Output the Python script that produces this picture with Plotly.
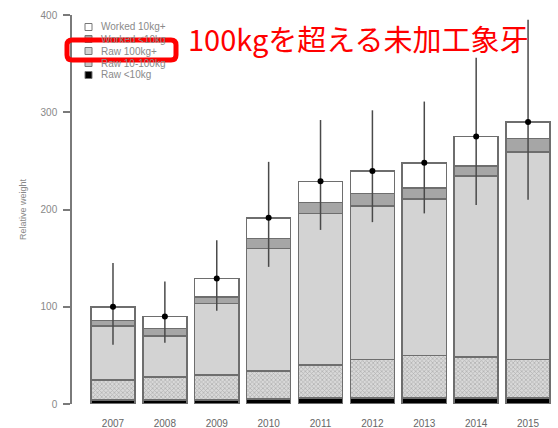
import plotly.graph_objects as go

years = ["2007", "2008", "2009", "2010", "2011", "2012", "2013", "2014", "2015"]
raw_lt10 = [4, 4, 4, 5, 6, 6, 6, 6, 6]
raw_10_100 = [20.5, 24, 26, 29, 34, 40, 44, 42.5, 40]
raw_100plus = [55.5, 42, 73.5, 126, 156, 157.5, 160.7, 185.8, 213]
worked_lt10 = [6, 7.4, 6.5, 10, 11, 13, 11.3, 10.3, 14]
worked_10plus = [14, 12.6, 19, 21.5, 22, 23, 26, 30.4, 17]
totals = [100, 90, 129, 191.5, 229, 239.5, 248, 275, 290]
ci_upper = [145, 126, 168.5, 249, 292, 302, 311, 356, 395]
ci_lower = [61, 63, 96, 141, 179, 187, 196, 204.5, 210]

legend_labels = ["Worked 10kg+", "Worked <10kg", "Raw 100kg+", "Raw 10-100kg", "Raw <10kg"]
annotation_text = "100kgを超える未加工象牙"

EDGE = "#6e6e6e"
fig = go.Figure()

layers = [
    (raw_lt10, dict(color="#000000")),
    (raw_10_100, dict(color="#d8d8d8", pattern=dict(shape="x", size=3, solidity=0.45,
                                                     fgcolor="#8c8c8c", bgcolor="#d9d9d9"))),
    (raw_100plus, dict(color="#d3d3d3")),
    (worked_lt10, dict(color="#a6a6a6")),
    (worked_10plus, dict(color="#ffffff")),
]
for vals, mk in layers:
    mk = dict(mk)
    mk["line"] = dict(color=EDGE, width=1.5)
    fig.add_trace(go.Bar(x=years, y=vals, width=0.85, marker=mk, showlegend=False,
                         hoverinfo="skip"))

fig.add_trace(go.Scatter(
    x=years, y=totals, mode="markers",
    marker=dict(color="#000000", size=6),
    error_y=dict(type="data", symmetric=False,
                 array=[u - t for u, t in zip(ci_upper, totals)],
                 arrayminus=[t - l for t, l in zip(totals, ci_lower)],
                 thickness=1.5, width=0, color="#4a4a4a"),
    showlegend=False, cliponaxis=False))

# plot area in pixels
L, R, T, B = 72, 554, 15, 404
W, H = 558, 428


def px(x):
    return (x - L) / (R - L)


def py(y):
    return (B - y) / (B - T)


shapes = []
annotations = []
sq_fill = ["#ffffff", "#a6a6a6", "#d3d3d3", "#c8c8c8", "#000000"]
for i, (lab, fc) in enumerate(zip(legend_labels, sq_fill)):
    yc = 27 + 12 * i
    shapes.append(dict(type="rect", xref="paper", yref="paper",
                       x0=px(85), x1=px(92), y0=py(yc + 3.5), y1=py(yc - 3.5),
                       fillcolor=fc, line=dict(color="#777777", width=1)))
    annotations.append(dict(text=lab, xref="paper", yref="paper", x=px(99), y=py(yc),
                            xanchor="left", yanchor="middle", showarrow=False,
                            font=dict(family="Liberation Sans, Arial", size=10, color="#8a8a8a")))

# red rounded box
x0, x1, y0, y1, r = 67, 176, 40, 60, 5
path = (f"M {px(x0 + r)},{py(y0)} L {px(x1 - r)},{py(y0)} "
        f"Q {px(x1)},{py(y0)} {px(x1)},{py(y0 + r)} L {px(x1)},{py(y1 - r)} "
        f"Q {px(x1)},{py(y1)} {px(x1 - r)},{py(y1)} L {px(x0 + r)},{py(y1)} "
        f"Q {px(x0)},{py(y1)} {px(x0)},{py(y1 - r)} L {px(x0)},{py(y0 + r)} "
        f"Q {px(x0)},{py(y0)} {px(x0 + r)},{py(y0)} Z")
shapes.append(dict(type="path", xref="paper", yref="paper", path=path,
                   line=dict(color="#ff0000", width=5)))

annotations.append(dict(text=annotation_text, xref="paper", yref="paper",
                        x=px(186), y=py(38), xanchor="left", yanchor="middle",
                        showarrow=False,
                        font=dict(family="Noto Sans CJK JP", size=29, color="#ff0000")))

fig.update_layout(
    width=W, height=H,
    margin=dict(l=L, r=W - R, t=T, b=H - B, autoexpand=False),
    barmode="stack", bargap=0.15,
    plot_bgcolor="#ffffff", paper_bgcolor="#ffffff",
    font=dict(family="Liberation Sans, Arial", color="#777777"),
    shapes=shapes, annotations=annotations,
    xaxis=dict(type="category", range=[-0.79, 8.5], showline=False, showgrid=False,
               zeroline=False, ticks="", tickfont=dict(size=10, color="#666666"),
               ticklabelstandoff=12, automargin=False),
    yaxis=dict(range=[0, 400], tickvals=[0, 100, 200, 300, 400], showgrid=False,
               zeroline=False, showline=True, linecolor="#7a7a7a", linewidth=1.5,
               ticks="outside", ticklen=7, tickcolor="#7a7a7a", tickwidth=1.5,
               tickfont=dict(size=10, color="#888888"), ticklabelstandoff=4,
               automargin=False,
               title=dict(text="Relative weight", font=dict(size=9, color="#888888"),
                          standoff=12)),
)

fig.write_html("out.html")
